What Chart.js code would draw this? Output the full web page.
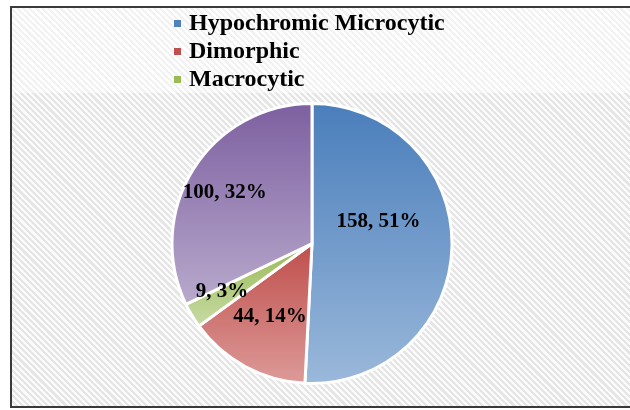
<!DOCTYPE html>
<html><head><meta charset="utf-8">
<script src="https://cdn.jsdelivr.net/npm/chart.js@4.4.1/dist/chart.umd.min.js"></script>
<style>
html,body{margin:0;padding:0;width:630px;height:410px;overflow:hidden;background:#fff;}
#clip{position:absolute;left:0;top:0;width:630px;height:410px;overflow:hidden;}
#frame{position:absolute;left:10px;top:6px;width:700px;height:398px;border:2px solid #3a3a3a;border-right:none;
background:repeating-linear-gradient(45deg,#ffffff 0px,#ffffff 2.2px,#f2f2f2 2.2px,#f2f2f2 4.4px);}
#lower{position:absolute;left:0;top:85px;right:0;bottom:0;
background:repeating-linear-gradient(45deg,#fbfbfb 0px,#fbfbfb 2.2px,#e5e5e5 2.2px,#e5e5e5 4.4px);}
#wrap{position:absolute;left:0;top:0;width:630px;height:410px;}
</style></head>
<body>
<div id="clip"><div id="frame"><div id="lower"></div></div></div>
<div id="wrap"><canvas id="c" width="630" height="410"></canvas></div>
<script>
// ---- data ----
const categories = ['Hypochromic Microcytic', 'Dimorphic', 'Macrocytic', 'Normocytic'];
const values = [158, 44, 9, 100];
const percentLabels = ['51%', '14%', '3%', '32%'];
const legendCount = 3; // only the first three entries appear in the legend

// ---- styles ----
const topColors = ['#4a7ebb', '#bf4f4c', '#98b954', '#7d60a0'];
const bottomColors = ['#9ab8da', '#dd9a98', '#c8dba4', '#b8a9cc'];
const legendColors = ['#4f81bd', '#c0504d', '#9bbb59', '#8064a2'];
// label placement: fraction of radius, angle shift (degrees) from slice mid-angle
const labelPlace = [[0.50, -19.5], [0.60, 1.6], [0.73, 2.7], [0.72, -2]];
const BORDER = 3;

function geometry(chart) {
  const a = chart.chartArea;
  const cx = (a.left + a.right) / 2, cy = (a.top + a.bottom) / 2;
  const r = (Math.min(a.right - a.left, a.bottom - a.top) - BORDER) / 2;
  const total = values.reduce((s, v) => s + v, 0);
  let ang = -Math.PI / 2;
  const arcs = values.map(v => {
    const s = ang, e = ang + v / total * Math.PI * 2;
    ang = e;
    return [s, e];
  });
  return {cx, cy, r, arcs};
}

function sliceGradient(context) {
  const chart = context.chart;
  if (!chart.chartArea) return topColors[context.dataIndex];
  const g = geometry(chart);
  const [s, e] = g.arcs[context.dataIndex];
  let ys = [g.cy, g.cy + g.r * Math.sin(s), g.cy + g.r * Math.sin(e)];
  for (const k of [-Math.PI / 2, Math.PI / 2, 3 * Math.PI / 2]) {
    if (k >= s && k <= e) ys.push(g.cy + g.r * Math.sin(k));
  }
  const y0 = Math.min(...ys), y1 = Math.max(...ys);
  const grad = chart.ctx.createLinearGradient(0, y0, 0, y1);
  grad.addColorStop(0, topColors[context.dataIndex]);
  grad.addColorStop(1, bottomColors[context.dataIndex]);
  return grad;
}

const labelPlugin = {
  id: 'labelsAndLegend',
  afterDatasetsDraw(chart) {
    const ctx = chart.ctx;
    const meta = chart.getDatasetMeta(0);
    ctx.save();
    ctx.fillStyle = '#000';
    ctx.font = 'bold 21px "Liberation Serif", "Times New Roman", serif';
    ctx.textAlign = 'center';
    ctx.textBaseline = 'middle';
    meta.data.forEach((arc, i) => {
      const p = arc.getProps(['x', 'y', 'startAngle', 'endAngle', 'outerRadius'], true);
      const mid = (p.startAngle + p.endAngle) / 2 + labelPlace[i][1] * Math.PI / 180;
      const d = p.outerRadius * labelPlace[i][0];
      ctx.fillText(values[i] + ', ' + percentLabels[i], p.x + Math.cos(mid) * d, p.y + Math.sin(mid) * d);
    });
    // legend
    ctx.font = 'bold 24px "Liberation Serif", "Times New Roman", serif';
    ctx.textAlign = 'left';
    ctx.textBaseline = 'alphabetic';
    for (let i = 0; i < legendCount; i++) {
      const base = 30 + i * 28;
      ctx.fillStyle = legendColors[i];
      ctx.fillRect(174, base - 10, 7, 7);
      ctx.fillStyle = '#000';
      ctx.fillText(categories[i], 189, base);
    }
    ctx.restore();
  }
};

new Chart(document.getElementById('c'), {
  type: 'pie',
  data: {
    labels: categories,
    datasets: [{
      data: values,
      backgroundColor: sliceGradient,
      borderColor: '#ffffff',
      borderWidth: BORDER
    }]
  },
  options: {
    responsive: false,
    animation: false,
    layout: {padding: {top: 102, bottom: 25, left: 100, right: 106}},
    plugins: {legend: {display: false}, tooltip: {enabled: false}}
  },
  plugins: [labelPlugin]
});
</script>
</body></html>
